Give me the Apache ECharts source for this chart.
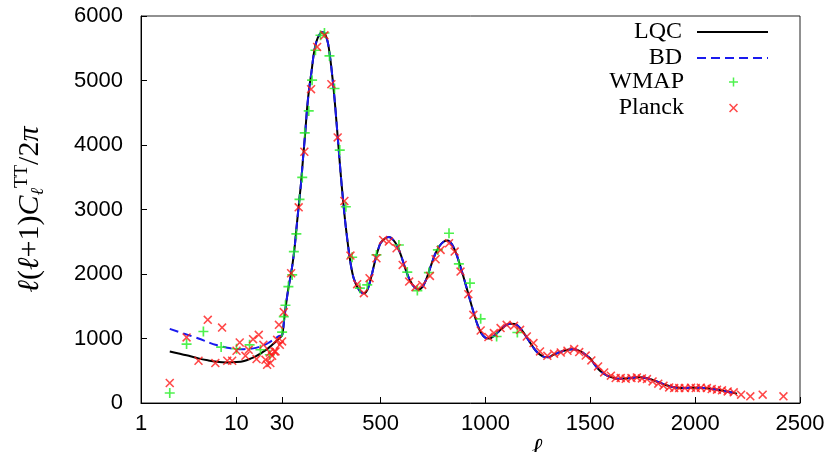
<!DOCTYPE html>
<html>
<head>
<meta charset="utf-8">
<script src="https://cdn.jsdelivr.net/npm/echarts@6/dist/echarts.min.js"></script>
<style>
html,body{margin:0;padding:0;background:#fff;}
#main{width:835px;height:452px;}
</style>
</head>
<body>
<div id="main"></div>
<script>
// x axis: log for l<=30, linear above
var tickL = [1, 10, 30, 500, 1000, 1500, 2000, 2500];

// model curves, low-l part (differ)
var lqcLowL = [2, 3, 4, 5, 6, 8, 10, 12, 14, 16, 18, 20, 22, 24, 26, 28];
var lqcLowV = [800, 740, 692, 662, 642, 628, 634, 652, 688, 728, 770, 815, 862, 910, 958, 1005];
var bdLowL = [2, 3, 4, 5, 6, 8, 10, 12, 14, 16, 18, 20, 22, 24, 26, 28];
var bdLowV = [1150, 1062, 1000, 945, 902, 857, 838, 835, 840, 855, 878, 905, 940, 975, 1010, 1040];

// shared part l>=30
var curveL = [30, 40, 50, 60, 70, 80, 90, 100, 110, 120, 130, 140, 150, 160, 170, 180, 190, 200, 210, 220,
  230, 240, 250, 260, 270, 280, 290, 300, 310, 320, 330, 340, 350, 360, 370, 380, 390, 400, 410, 420,
  430, 440, 450, 460, 470, 480, 490, 500, 520, 540, 560, 580, 600, 620, 640, 660, 680, 700, 720, 740,
  760, 780, 800, 820, 840, 860, 880, 900, 920, 940, 960, 980, 1000, 1020, 1040, 1060, 1080, 1100, 1120, 1140,
  1160, 1180, 1200, 1220, 1240, 1260, 1280, 1300, 1320, 1340, 1360, 1380, 1400, 1420, 1440, 1460, 1480, 1500, 1520, 1540,
  1560, 1580, 1600, 1620, 1640, 1660, 1680, 1700, 1720, 1740, 1760, 1780, 1800, 1820, 1840, 1860, 1880, 1900, 1920, 1940,
  1960, 1980, 2000, 2020, 2040, 2060, 2080, 2100, 2120, 2140, 2160, 2180, 2200];
var curveV = [1050, 1300, 1560, 1780, 1960, 2160, 2420, 2760, 3080, 3400, 3800, 4180, 4600, 4900, 5130, 5390, 5560, 5660, 5720, 5750,
  5740, 5680, 5560, 5330, 5050, 4720, 4330, 3930, 3530, 3170, 2840, 2560, 2310, 2100, 1950, 1860, 1790, 1740, 1710, 1700,
  1720, 1780, 1890, 2020, 2160, 2290, 2400, 2480, 2550, 2575, 2530, 2430, 2260, 2060, 1900, 1800, 1760, 1800, 1940, 2130,
  2310, 2430, 2500, 2520, 2460, 2320, 2120, 1900, 1670, 1440, 1230, 1080, 1010, 1000, 1040, 1100, 1160, 1210, 1230, 1225,
  1180, 1100, 1000, 900, 810, 750, 715, 710, 740, 770, 795, 815, 830, 835, 820, 790, 740, 690, 600, 520,
  465, 425, 400, 380, 376, 378, 382, 390, 398, 400, 390, 376, 355, 330, 305, 280, 258, 243, 236, 233,
  234, 236, 237, 236, 233, 228, 218, 208, 198, 186, 172, 160, 145];

// WMAP points
var wmapL = [2, 3, 4.5, 6.9, 10, 13.7, 17.8, 22.3, 30, 38, 46, 60, 78, 86, 98, 113, 126, 138, 157, 173,
  189, 213, 232, 256, 280, 305, 334, 364, 401, 436, 480, 587, 627, 675, 730, 773, 826, 873, 926, 977,
  1053, 1152];
var wmapV = [155, 913, 1108, 867, 841, 902, 825, 748, 1100, 1340, 1515, 1805, 1986, 2347, 2621, 3158, 3498, 4189, 4529, 5005,
  5469, 5701, 5737, 5381, 4876, 3921, 3043, 2260, 1780, 1831, 2296, 2450, 2030, 1743, 2022, 2373, 2632, 2156, 1858, 1305,
  1031, 1093];

// Planck points
var planckL = [2, 3, 4, 5, 6, 7.06, 8, 9, 10, 10.8, 12.4, 13.4, 14.9, 16.2, 17.1, 19.1, 20.1, 20.9, 22.3, 22.6,
  23.6, 24.9, 25.6, 26.6, 27.8, 28.4, 30, 38, 73, 109, 136, 168, 197, 232, 265, 295, 327, 356, 388, 420,
  447, 480, 512, 539, 576, 605, 636, 666, 698, 735, 762, 786, 826, 853, 881, 918, 942, 977, 1014, 1040,
  1072, 1101, 1136, 1165, 1197, 1229, 1260, 1295, 1327, 1359, 1391, 1423, 1447, 1478, 1505, 1537, 1566, 1598, 1621, 1645,
  1669, 1696, 1722, 1746, 1770, 1797, 1824, 1849, 1876, 1900, 1924, 1951, 1980, 2003, 2027, 2056, 2079, 2104, 2128, 2155,
  2184, 2219, 2263, 2322, 2421];
var planckV = [310, 1016, 655, 1289, 619, 1170, 655, 655, 810, 938, 732, 825, 990, 681, 1057, 902, 670, 593, 783, 619,
  732, 799, 799, 980, 1212, 902, 954, 1410, 2012, 3034, 3895, 4865, 5520, 5701, 4943, 4117, 3132, 2285, 1842, 1703,
  1935, 2244, 2528, 2502, 2399, 2141, 1882, 1796, 1831, 1970, 2229, 2373, 2477, 2347, 2037, 1687, 1367, 1124, 1022, 1084,
  1161, 1212, 1197, 1135, 1031, 929, 799, 732, 763, 783, 810, 836, 790, 735, 660, 567, 474, 423, 387, 387,
  376, 387, 397, 381, 371, 335, 299, 268, 242, 232, 232, 232, 237, 232, 237, 232, 216, 206, 196, 180,
  165, 129, 103, 129, 103];

var DECADE = 455.6;
var T30 = DECADE * Math.log10(30);
function toT(l) {
  return l <= 30 ? DECADE * Math.log10(l) : T30 + (l - 30);
}
function pairs(ls, vs) {
  var out = [];
  for (var i = 0; i < ls.length; i++) out.push([toT(ls[i]), vs[i]]);
  return out;
}
var tickT = tickL.map(toT);

var plusPath = 'path://M4,0h1.6v9.6h-1.6zM0,4h9.6v1.6h-9.6z';
var crossPath = 'path://M0,1.1L1.1,0L9,7.9L7.9,9ZM7.9,0L9,1.1L1.1,9L0,7.9Z';

var chart = echarts.init(document.getElementById('main'), null, {renderer: 'canvas'});
var option = {
  animation: false,
  grid: {left: 141, right: 35, top: 16, bottom: 49, show: true, borderColor: '#222', borderWidth: 1,
    outerBoundsMode: 'none', containLabel: false},
  legend: [{
    data: ['LQC', 'BD'],
    orient: 'vertical', align: 'right', right: 66, top: 19, padding: 0,
    itemWidth: 71, itemHeight: 14, itemGap: 0,
    itemStyle: {opacity: 0},
    textStyle: {fontFamily: 'Liberation Serif', fontSize: 24, color: '#000', lineHeight: 26, padding: [0, 10, 0, 0]}
  }, {
    data: ['WMAP', 'Planck'],
    orient: 'vertical', align: 'right', right: 97, top: 69, padding: 0,
    itemWidth: 9, itemHeight: 9, itemGap: 0,
    textStyle: {fontFamily: 'Liberation Serif', fontSize: 24, color: '#000', lineHeight: 26, padding: [0, 40, 0, 0]}
  }],
  xAxis: {
    type: 'value', min: 0, max: toT(2500),
    name: 'ℓ', nameLocation: 'middle', nameGap: 33, nameMoveOverlap: false,
    nameTextStyle: {fontFamily: 'DejaVu Serif', fontStyle: 'italic', fontWeight: 'bold', fontSize: 26, color: '#000', padding: [0, 0, 0, 134]},
    axisLine: {lineStyle: {color: '#000', width: 1}},
    axisTick: {inside: true, length: 6, customValues: tickT, lineStyle: {color: '#000'}},
    axisLabel: {
      customValues: tickT, margin: 10, color: '#000', fontFamily: 'Liberation Sans', fontSize: 22,
      formatter: function (v) {
        for (var i = 0; i < tickT.length; i++) if (Math.abs(tickT[i] - v) < 1) return String(tickL[i]);
        return '';
      }
    },
    splitLine: {show: false}
  },
  yAxis: {
    type: 'value', min: 0, max: 6000, interval: 1000,
    name: '{i|ℓ}{a|(}{i|ℓ}{a|+1)}{i|C}{b|ℓ}{c|TT}{a|/2}{i|π}', nameLocation: 'middle', nameGap: 94,
    nameTextStyle: {
      rich: {
        a: {fontFamily: 'Liberation Serif', fontSize: 30, color: '#000', lineHeight: 34},
        i: {fontFamily: 'Liberation Serif', fontStyle: 'italic', fontSize: 30, color: '#000', lineHeight: 34},
        b: {fontFamily: 'Liberation Serif', fontStyle: 'italic', fontSize: 18, color: '#000', verticalAlign: 'bottom', lineHeight: 18},
        c: {fontFamily: 'Liberation Serif', fontSize: 19, color: '#000', verticalAlign: 'top', lineHeight: 19}
      }
    },
    axisLine: {show: true, lineStyle: {color: '#000', width: 1}},
    axisTick: {inside: true, length: 6, lineStyle: {color: '#000'}},
    axisLabel: {margin: 18, color: '#000', fontFamily: 'Liberation Sans', fontSize: 22,
      formatter: function (v) { return String(v); }},
    splitLine: {show: false}
  },
  series: [{
    name: 'LQC', type: 'line', data: pairs(lqcLowL.concat(curveL), lqcLowV.concat(curveV)),
    symbol: 'none', smooth: 0.3, color: '#000', lineStyle: {color: '#000', width: 2}, z: 2
  }, {
    name: 'BD', type: 'line', data: pairs(bdLowL.concat(curveL), bdLowV.concat(curveV)),
    symbol: 'none', smooth: 0.3, color: '#1a1aee', lineStyle: {color: '#1a1aee', width: 2, type: [9, 5]}, z: 3
  }, {
    name: 'WMAP', type: 'scatter', data: pairs(wmapL, wmapV),
    symbol: plusPath, symbolSize: 10, itemStyle: {color: '#22ee22'}, z: 4
  }, {
    name: 'Planck', type: 'scatter', data: pairs(planckL, planckV),
    symbol: crossPath, symbolSize: 9, itemStyle: {color: '#ff1a1a'}, z: 5
  }]
};
chart.setOption(option);
</script>
</body>
</html>
